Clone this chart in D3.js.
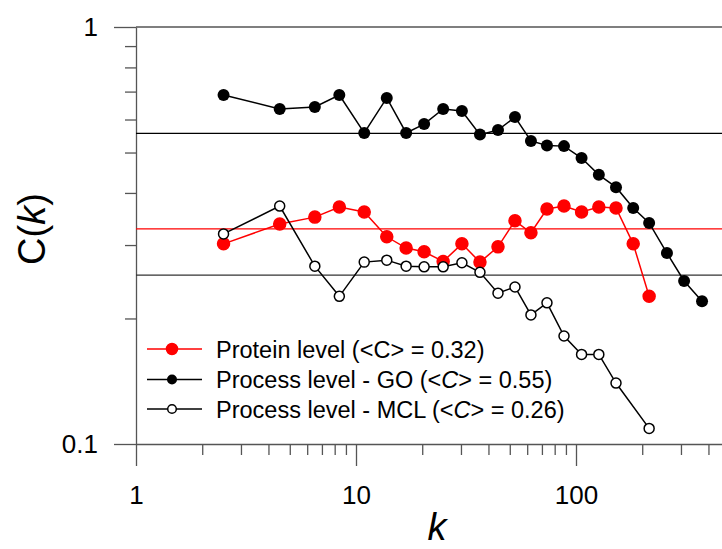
<!DOCTYPE html>
<meta charset="utf-8">
<script src="https://d3js.org/d3.v7.min.js"></script>
<style>
  body { margin: 0; background: #fff; }
  text { font-family: "Liberation Sans", Arial, sans-serif; }
</style>
<body>
<div id="chart"></div>
<script>
// degree bins (k)
const kValues = [2.5, 4.5, 6.5, 8.4, 10.9, 13.8, 16.9, 20.4, 24.9, 30.3, 36.6, 44.2,
                 52.8, 62.4, 73.8, 88.2, 106, 127, 152, 182, 215, 259, 310, 374];

// C(k) for each series (null = no point)
const proteinC = [0.302, 0.337, 0.350, 0.370, 0.360, 0.314, 0.295, 0.289, 0.274, 0.302, 0.273, 0.297,
                  0.343, 0.321, 0.366, 0.372, 0.360, 0.370, 0.368, 0.302, 0.226];
const goC = [0.687, 0.636, 0.643, 0.687, 0.557, 0.676, 0.557, 0.585, 0.636, 0.629, 0.552, 0.566,
             0.608, 0.533, 0.520, 0.518, 0.485, 0.442, 0.413, 0.368, 0.339, 0.287, 0.246, 0.220];
const mclC = [0.319, 0.372, 0.267, 0.226, 0.273, 0.276, 0.267, 0.266, 0.266, 0.272, 0.258, 0.230,
              0.238, 0.204, 0.218, 0.1815, 0.164, 0.164, 0.140, null, 0.109];

// average clustering lines
const meanC = [0.328, 0.556, 0.254];

const seriesNames = ["Protein level", "Process level - GO", "Process level - MCL"];
const meanLabels = ["0.32", "0.55", "0.26"];

const yTickLabels = ["0.1", "1"];
const xTickLabels = ["1", "10", "100"];

const W = 722, H = 549;
const svg = d3.select("#chart").append("svg")
  .attr("width", W).attr("height", H);

const x = d3.scaleLog().domain([1, 1000]).range([136, 796]);
const y = d3.scaleLog().domain([0.1, 1]).range([444, 27]);

const axisColor = "#555";

// minor ticks
const xMinor = [];
for (const d of [1, 10, 100]) for (let i = 2; i <= 9; i++) xMinor.push(d * i);
const yMinor = d3.range(2, 10).map(i => i / 10);

svg.append("g")
  .attr("transform", "translate(0,444)")
  .call(d3.axisBottom(x).tickValues(xMinor).tickSize(11).tickSizeOuter(0).tickFormat(""))
  .call(g => g.select(".domain").remove());
svg.append("g")
  .attr("transform", "translate(136,0)")
  .call(d3.axisLeft(y).tickValues(yMinor).tickSize(11).tickSizeOuter(0).tickFormat(""))
  .call(g => g.select(".domain").remove());

// major ticks with labels
const xAxis = svg.append("g")
  .attr("transform", "translate(0,444)")
  .call(d3.axisBottom(x).tickValues(xTickLabels.map(Number)).tickSize(22).tickPadding(20)
    .tickSizeOuter(0).tickFormat(d => String(d)));
const yAxis = svg.append("g")
  .attr("transform", "translate(136,0)")
  .call(d3.axisLeft(y).tickValues(yTickLabels.map(Number)).tickSize(22).tickPadding(16)
    .tickSizeOuter(0).tickFormat(d => String(d)));

svg.selectAll(".tick line").attr("stroke", axisColor).attr("stroke-width", 1.3);
svg.selectAll(".domain").attr("stroke", axisColor).attr("stroke-width", 1.3);
svg.selectAll(".tick text").attr("font-size", 26).attr("fill", "#000")
  .style("font-family", "'Liberation Sans', Arial, sans-serif");

// top frame line
svg.append("line")
  .attr("x1", 136).attr("x2", W).attr("y1", y(1)).attr("y2", y(1))
  .attr("stroke", axisColor).attr("stroke-width", 1.3);

// axis titles
svg.append("text")
  .attr("x", 437).attr("y", 540)
  .attr("text-anchor", "middle")
  .attr("font-size", 38).attr("font-style", "italic")
  .text("k");
const yTitle = svg.append("text")
  .attr("transform", "translate(45,229) rotate(-90)")
  .attr("text-anchor", "middle")
  .attr("font-size", 38);
yTitle.append("tspan").text("C(");
yTitle.append("tspan").attr("font-style", "italic").text("k");
yTitle.append("tspan").text(")");

// mean lines
const meanColors = ["#ff0000", "#000", "#333"];
meanC.forEach((m, i) => {
  svg.append("line")
    .attr("x1", 136).attr("x2", W)
    .attr("y1", y(m)).attr("y2", y(m))
    .attr("stroke", meanColors[i]).attr("stroke-width", 1.2);
});

// series
const styles = [
  { stroke: "#ff0000", fill: "#ff0000", r: 6, sw: 1.5, lw: 1.5 },
  { stroke: "#000", fill: "#000", r: 6, sw: 0, lw: 1.5 },
  { stroke: "#000", fill: "#fff", r: 5, sw: 1.5, lw: 1.5 }
];
const allC = [proteinC, goC, mclC];

const line = d3.line()
  .defined(d => d.c != null)
  .x(d => x(d.k)).y(d => y(d.c));

allC.forEach((vals, i) => {
  const pts = vals.map((c, j) => ({ k: kValues[j], c: c }));
  const st = styles[i];
  const g = svg.append("g");
  g.append("path")
    .datum(pts.filter(d => d.c != null))
    .attr("d", line)
    .attr("fill", "none")
    .attr("stroke", st.stroke)
    .attr("stroke-width", st.lw);
  g.selectAll("circle")
    .data(pts.filter(d => d.c != null))
    .join("circle")
    .attr("cx", d => x(d.k)).attr("cy", d => y(d.c))
    .attr("r", st.r)
    .attr("fill", st.fill)
    .attr("stroke", st.stroke)
    .attr("stroke-width", st.sw);
});

// legend
const legendY = [349, 379.5, 409];
const legR = [5.5, 5, 4.3];
seriesNames.forEach((name, i) => {
  const st = styles[i];
  const g = svg.append("g").attr("transform", `translate(0,${legendY[i]})`);
  g.append("line").attr("x1", 147).attr("x2", 202)
    .attr("stroke", st.stroke).attr("stroke-width", st.lw);
  g.append("circle").attr("cx", 172).attr("r", legR[i])
    .attr("fill", st.fill).attr("stroke", st.stroke).attr("stroke-width", st.sw);
  const t = g.append("text").attr("x", 216).attr("y", 8.5).attr("font-size", 23.5);
  t.append("tspan").text(name + " (<");
  t.append("tspan").attr("font-style", i === 0 ? "normal" : "italic").text("C");
  t.append("tspan").text("> = " + meanLabels[i] + ")");
});
</script>
</body>
